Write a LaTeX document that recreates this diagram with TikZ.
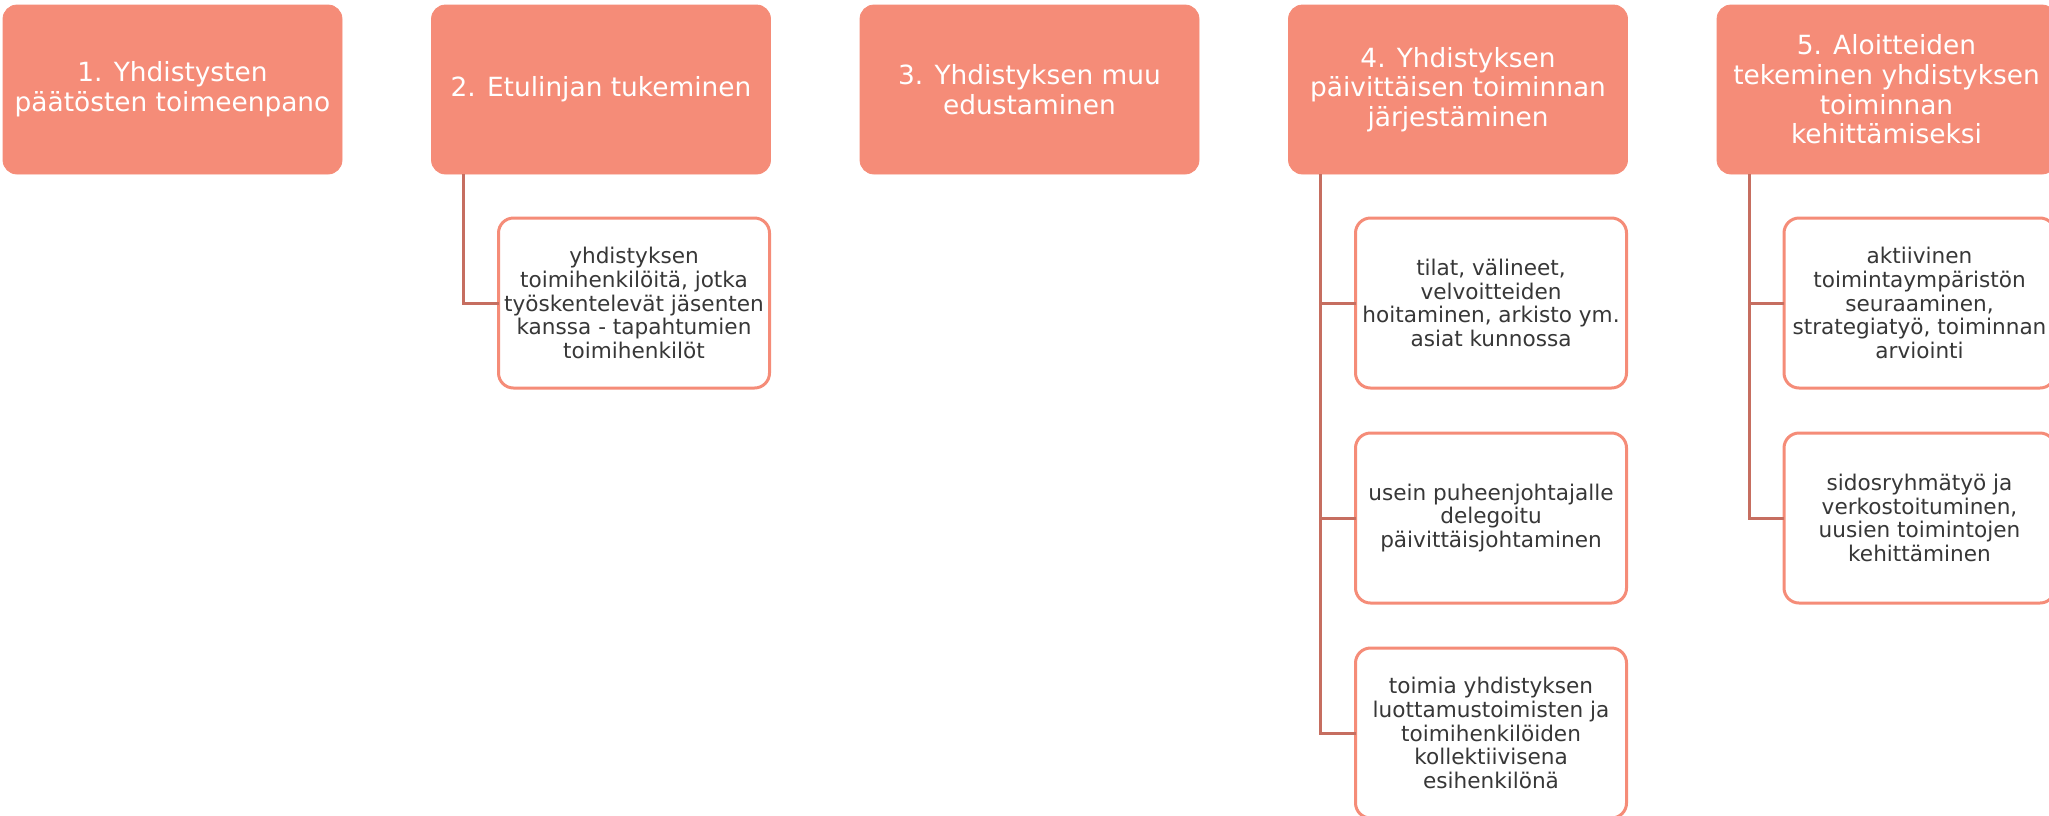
\documentclass[tikz,border=0pt]{standalone}
\usepackage{fontspec}
\setmainfont{DejaVu Sans}
\usetikzlibrary{positioning}
\definecolor{salmon}{RGB}{245,140,120}
\definecolor{linkred}{RGB}{198,110,96}
\definecolor{txtgray}{RGB}{55,55,55}

\begin{document}
\begin{tikzpicture}[
 topbox/.style={fill=salmon,draw=salmon,rounded corners=7pt,outer sep=0pt,inner sep=0pt,
  minimum width=169.5pt,minimum height=84.5pt,align=center,text=white,
  font=\fontsize{13.2}{14.8}\selectfont},
 subbox/.style={draw=salmon,line width=1.5pt,fill=white,rounded corners=7.5pt,outer sep=0pt,inner sep=0pt,
  minimum width=135.5pt,minimum height=85pt,align=center,text=txtgray,
  font=\fontsize{10.8}{11.8}\selectfont},
 link/.style={draw=linkred,line width=1.5pt},
 node distance=22.5pt and 44.75pt]
\useasboundingbox (0,0) rectangle (1024.5pt,-407.5pt);
\clip (0,0) rectangle (1024.5pt,-407.5pt);

% top row
\node[topbox,anchor=north west] (b1) at (1.5pt,-2.5pt) {1. Yhdistysten\\päätösten toimeenpano};
\node[topbox,right=of b1] (b2) {2. Etulinjan tukeminen};
\node[topbox,right=of b2] (b3) {3. Yhdistyksen muu\\edustaminen};
\node[topbox,right=of b3] (b4) {4. Yhdistyksen\\päivittäisen toiminnan\\järjestäminen};
\node[topbox,right=of b4] (b5) {5. Aloitteiden\\tekeminen yhdistyksen\\toiminnan\\kehittämiseksi};

% sub boxes
\node[subbox,below right=22pt and 33.5pt of b2.south west] (c21) {yhdistyksen\\toimihenkilöitä, jotka\\työskentelevät jäsenten\\kanssa - tapahtumien\\toimihenkilöt};

\node[subbox,below right=22pt and 33.5pt of b4.south west] (c41) {tilat, välineet,\\velvoitteiden\\hoitaminen, arkisto ym.\\asiat kunnossa};
\node[subbox,below=of c41] (c42) {usein puheenjohtajalle\\delegoitu\\päivittäisjohtaminen};
\node[subbox,below=of c42] (c43) {toimia yhdistyksen\\luottamustoimisten ja\\toimihenkilöiden\\kollektiivisena\\esihenkilönä};

\node[subbox,below right=22pt and 33.5pt of b5.south west] (c51) {aktiivinen\\toimintaympäristön\\seuraaminen,\\strategiatyö, toiminnan\\arviointi};
\node[subbox,below=of c51] (c52) {sidosryhmätyö ja\\verkostoituminen,\\uusien toimintojen\\kehittäminen};

% connectors
\draw[link] ([xshift=16pt]b2.south west) |- (c21.west);
\foreach \c in {c41,c42,c43}
  \draw[link] ([xshift=16pt]b4.south west) |- (\c.west);
\foreach \c in {c51,c52}
  \draw[link] ([xshift=16pt]b5.south west) |- (\c.west);
\end{tikzpicture}
\end{document}
